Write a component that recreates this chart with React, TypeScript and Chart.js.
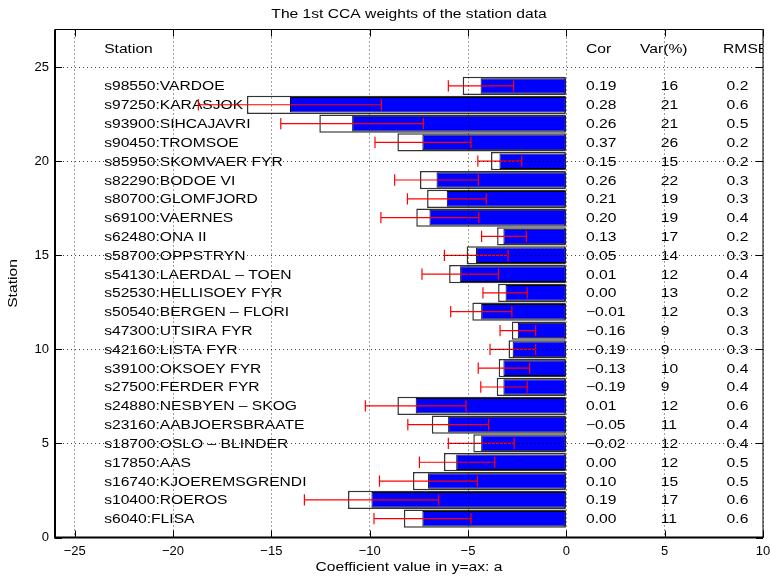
import { useEffect, useRef } from 'react';
import { Chart, registerables } from 'chart.js';

Chart.register(...registerables);

// Stations, listed top to bottom as shown in the chart
const stations = [
  's98550:VARDOE', 's97250:KARASJOK', 's93900:SIHCAJAVRI', 's90450:TROMSOE',
  's85950:SKOMVAER FYR', 's82290:BODOE VI', 's80700:GLOMFJORD', 's69100:VAERNES',
  's62480:ONA II', 's58700:OPPSTRYN', 's54130:LAERDAL – TOEN', 's52530:HELLISOEY FYR',
  's50540:BERGEN – FLORI', 's47300:UTSIRA FYR', 's42160:LISTA FYR', 's39100:OKSOEY FYR',
  's27500:FERDER FYR', 's24880:NESBYEN – SKOG', 's23160:AABJOERSBRAATE', 's18700:OSLO – BLINDER',
  's17850:AAS', 's16740:KJOEREMSGRENDI', 's10400:ROEROS', 's6040:FLISA',
];

// Blue bars (coefficient a)
const blueValues = [
  -4.36, -14.05, -10.89, -7.32, -3.40, -6.60, -6.08, -6.96, -3.20, -4.59, -5.40, -3.09,
  -4.33, -2.47, -2.73, -3.20, -3.20, -7.66, -6.01, -4.33, -5.60, -7.03, -9.91, -7.32,
];

// White outlined bars
const whiteValues = [
  -5.27, -16.24, -12.56, -8.59, -3.83, -7.44, -7.08, -7.63, -3.52, -5.07, -5.96, -3.47,
  -4.78, -2.77, -2.94, -3.44, -3.54, -8.59, -6.84, -4.73, -6.22, -7.80, -11.10, -8.26,
];

// Red error bars: low and high ends
const errLow = [
  -6.00, -18.71, -14.52, -9.73, -4.50, -8.73, -8.08, -9.43, -4.31, -6.20, -7.34, -4.24,
  -5.88, -3.37, -3.88, -4.48, -4.35, -10.22, -8.06, -6.00, -7.47, -9.50, -13.32, -9.78,
];
const errHigh = [
  -2.68, -9.40, -7.27, -4.85, -2.27, -4.47, -4.07, -4.45, -2.03, -2.96, -3.45, -1.99,
  -2.77, -1.56, -1.56, -1.87, -1.99, -5.10, -3.95, -2.65, -3.64, -4.52, -6.49, -4.85,
];

// Table columns
const corValues = [
  '0.19', '0.28', '0.26', '0.37', '0.15', '0.26', '0.21', '0.20', '0.13', '0.05', '0.01', '0.00',
  '−0.01', '−0.16', '−0.19', '−0.13', '−0.19', '0.01', '−0.05', '−0.02', '0.00', '0.10', '0.19', '0.00',
];
const varValues = [
  '16', '21', '21', '26', '15', '22', '19', '19', '17', '14', '12', '13',
  '12', '9', '9', '10', '9', '12', '11', '12', '12', '15', '17', '11',
];
const rmseValues = [
  '0.2', '0.6', '0.5', '0.2', '0.2', '0.3', '0.3', '0.4', '0.2', '0.3', '0.4', '0.2',
  '0.3', '0.3', '0.3', '0.4', '0.4', '0.6', '0.4', '0.4', '0.5', '0.5', '0.6', '0.6',
];

const headerLabels = ['Station', 'Cor', 'Var(%)', 'RMSE'];
const titleText = 'The 1st CCA weights of the station data';
const xTitle = 'Coefficient value in y=ax: a';
const yTitle = 'Station';

const rowY = stations.map((_, i) => stations.length - i);

const FONT = '"Liberation Sans", Arial, Helvetica, sans-serif';
const SX = 1.25;

function stretchText(ctx: CanvasRenderingContext2D, text: string, px: number, py: number, align: CanvasTextAlign = 'left') {
  ctx.save();
  ctx.translate(px, py);
  ctx.scale(SX, 1);
  ctx.textAlign = align;
  ctx.fillText(text, 0, 0);
  ctx.restore();
}

const overlayPlugin = {
  id: 'overlay',
  afterDatasetsDraw(chart: any) {
    const { ctx, chartArea, scales } = chart;
    const x = scales.x;
    const y = scales.y;
    ctx.save();
    ctx.beginPath();
    ctx.rect(chartArea.left, chartArea.top, chartArea.right - chartArea.left, chartArea.bottom - chartArea.top);
    ctx.clip();
    ctx.fillStyle = '#000';
    ctx.font = `12.5px ${FONT}`;
    ctx.textBaseline = 'alphabetic';
    const off = 4.5;
    // header
    const hy = y.getPixelForValue(26) + off;
    stretchText(ctx, headerLabels[0], x.getPixelForValue(-23.5), hy);
    stretchText(ctx, headerLabels[1], x.getPixelForValue(1.0), hy);
    stretchText(ctx, headerLabels[2], x.getPixelForValue(3.75), hy);
    stretchText(ctx, headerLabels[3], x.getPixelForValue(7.97), hy);
    stations.forEach((s, i) => {
      const py = y.getPixelForValue(rowY[i]) + off;
      stretchText(ctx, s, x.getPixelForValue(-23.5), py);
      stretchText(ctx, corValues[i], x.getPixelForValue(1.0), py);
      stretchText(ctx, varValues[i], x.getPixelForValue(4.8), py);
      stretchText(ctx, rmseValues[i], x.getPixelForValue(8.15), py);
    });
    // error bars
    const rowPx = Math.abs(y.getPixelForValue(0) - y.getPixelForValue(1));
    const cap = rowPx * 0.3;
    ctx.strokeStyle = '#ff0000';
    ctx.lineWidth = 1.2;
    stations.forEach((_, i) => {
      const py = y.getPixelForValue(rowY[i]);
      const x1 = x.getPixelForValue(errLow[i]);
      const x2 = x.getPixelForValue(errHigh[i]);
      ctx.beginPath();
      ctx.moveTo(x1, py);
      ctx.lineTo(x2, py);
      ctx.moveTo(x1, py - cap);
      ctx.lineTo(x1, py + cap);
      ctx.moveTo(x2, py - cap);
      ctx.lineTo(x2, py + cap);
      ctx.stroke();
    });
    ctx.restore();
  },
  afterDraw(chart: any) {
    const { ctx, chartArea, scales } = chart;
    const x = scales.x;
    const y = scales.y;
    const { left, right, top, bottom } = chartArea;
    ctx.save();
    // inward tick marks
    ctx.strokeStyle = '#000';
    ctx.lineWidth = 1;
    const tl = 7;
    ctx.beginPath();
    x.ticks.forEach((t: any) => {
      const px = Math.round(x.getPixelForValue(t.value)) + 0.5;
      ctx.moveTo(px, bottom);
      ctx.lineTo(px, bottom - tl);
      ctx.moveTo(px, top);
      ctx.lineTo(px, top + tl);
    });
    y.ticks.forEach((t: any) => {
      const py = Math.round(y.getPixelForValue(t.value)) + 0.5;
      ctx.moveTo(left, py);
      ctx.lineTo(left + tl, py);
      ctx.moveTo(right, py);
      ctx.lineTo(right - tl, py);
    });
    ctx.stroke();
    // box: top & right thin
    ctx.beginPath();
    ctx.moveTo(left, top);
    ctx.lineTo(right, top);
    ctx.lineTo(right, bottom);
    ctx.stroke();
    // left & bottom thicker
    ctx.lineWidth = 2;
    ctx.beginPath();
    ctx.moveTo(left, top);
    ctx.lineTo(left, bottom);
    ctx.lineTo(right, bottom);
    ctx.stroke();
    // title & axis titles
    ctx.fillStyle = '#000';
    ctx.font = `12.5px ${FONT}`;
    ctx.textBaseline = 'alphabetic';
    const cx = (left + right) / 2;
    stretchText(ctx, titleText, cx, 17.5, 'center');
    stretchText(ctx, xTitle, cx, 571, 'center');
    ctx.save();
    ctx.translate(17, (top + bottom) / 2);
    ctx.rotate(-Math.PI / 2);
    ctx.scale(SX, 1);
    ctx.textAlign = 'center';
    ctx.fillText(yTitle, 0, 0);
    ctx.restore();
    ctx.restore();
  },
};

export default function App() {
  const ref = useRef<HTMLCanvasElement | null>(null);
  useEffect(() => {
    document.body.style.margin = '0';
    const canvas = ref.current;
    if (!canvas) return;
    const minus = (v: any) => String(v).replace('-', '−');
    const chart = new Chart(canvas, {
      type: 'bar',
      data: {
        datasets: [
          {
            label: 'a',
            data: blueValues.map((v, i) => ({ x: v, y: rowY[i] })),
            backgroundColor: '#0000ff',
            borderColor: '#000000',
            borderWidth: 1,
            borderSkipped: false,
            grouped: false,
            barPercentage: 0.83,
            categoryPercentage: 1,
          } as any,
          {
            label: 'b',
            data: whiteValues.map((v, i) => ({ x: v, y: rowY[i] })),
            backgroundColor: '#ffffff',
            borderColor: '#333333',
            borderWidth: 1.5,
            borderSkipped: false,
            grouped: false,
            barPercentage: 0.97,
            categoryPercentage: 1,
          } as any,
        ],
      },
      options: {
        indexAxis: 'y',
        responsive: false,
        animation: false,
        devicePixelRatio: 1,
        layout: { padding: { top: 29.5, right: 7, left: 0, bottom: 0 } },
        plugins: {
          legend: { display: false },
          title: { display: false },
          tooltip: { enabled: false },
        },
        scales: {
          x: {
            type: 'linear',
            min: -26,
            max: 10,
            offset: false,
            afterFit: (s: any) => {
              s.height = 39.5;
              s.paddingLeft = 0;
              s.paddingRight = 0;
            },
            ticks: {
              stepSize: 5,
              includeBounds: false,
              callback: minus,
              color: '#000',
              font: { family: FONT, size: 13 },
              padding: 6,
              maxRotation: 0,
            },
            grid: { color: 'rgba(0,0,0,0.75)', lineWidth: 1, drawTicks: false, z: 1, offset: false },
            border: { display: false, dash: [1, 3] },
          },
          y: {
            type: 'linear',
            min: 0,
            max: 27,
            offset: false,
            afterFit: (s: any) => {
              s.width = 55;
              s.paddingTop = 0;
              s.paddingBottom = 0;
            },
            ticks: {
              stepSize: 5,
              includeBounds: false,
              callback: minus,
              color: '#000',
              font: { family: FONT, size: 13 },
              padding: 6,
            },
            grid: { color: 'rgba(0,0,0,0.75)', lineWidth: 1, drawTicks: false, z: 1, offset: false },
            border: { display: false, dash: [1, 3] },
          },
        },
      } as any,
      plugins: [overlayPlugin],
    });
    return () => chart.destroy();
  }, []);
  return (
    <div style={{ width: 770, height: 577 }}>
      <canvas ref={ref} width={770} height={577} style={{ display: 'block' }} />
    </div>
  );
}
